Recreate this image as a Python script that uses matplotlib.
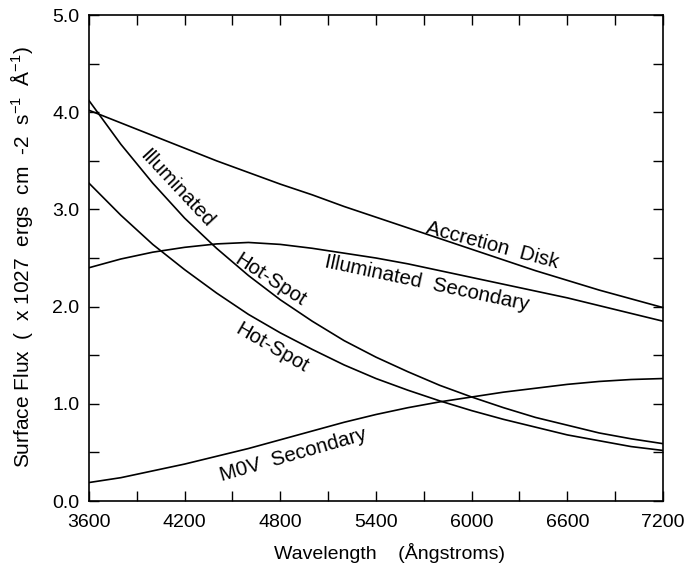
import numpy as np
import matplotlib
matplotlib.use("Agg")
import matplotlib.pyplot as plt
from matplotlib.ticker import MultipleLocator, FormatStrFormatter

plt.rcParams['font.family'] = ['Liberation Sans', 'DejaVu Sans']
plt.rcParams['mathtext.fontset'] = 'custom'
plt.rcParams['mathtext.rm'] = 'Liberation Sans'
plt.rcParams['mathtext.it'] = 'Liberation Sans'

# wavelength grid (Angstroms) and fluxes (x 1e27 erg/cm2/s/A)
wavelength = [3600, 3800, 4000, 4200, 4400, 4600, 4800, 5000, 5200, 5400,
              5600, 5800, 6000, 6200, 6400, 6600, 6800, 7000, 7200]
accretion_disk = [4.02, 3.89, 3.76, 3.63, 3.50, 3.38, 3.26, 3.15, 3.03, 2.92,
                  2.81, 2.70, 2.59, 2.48, 2.37, 2.27, 2.17, 2.08, 1.99]
illum_hotspot = [4.12, 3.67, 3.27, 2.91, 2.60, 2.32, 2.07, 1.85, 1.65, 1.48,
                 1.33, 1.19, 1.07, 0.96, 0.86, 0.78, 0.70, 0.64, 0.59]
hotspot = [3.27, 2.94, 2.64, 2.38, 2.14, 1.92, 1.73, 1.56, 1.40, 1.26,
           1.14, 1.03, 0.93, 0.84, 0.76, 0.68, 0.62, 0.56, 0.52]
illum_secondary = [2.40, 2.49, 2.56, 2.61, 2.645, 2.66, 2.64, 2.60, 2.55, 2.50,
                   2.44, 2.37, 2.30, 2.23, 2.16, 2.09, 2.01, 1.93, 1.85]
m0v_secondary = [0.19, 0.24, 0.31, 0.38, 0.46, 0.54, 0.63, 0.72, 0.81, 0.89,
                 0.96, 1.02, 1.07, 1.12, 1.16, 1.20, 1.23, 1.25, 1.26]

# curve labels: text, x, y, rotation
curve_labels = [
    ("Illuminated", 4150, 3.22, -47),
    ("Hot-Spot", 4740, 2.27, -33),
    ("Hot-Spot", 4745, 1.57, -30),
    ("M0V  Secondary", 4880, 0.47, 16),
    ("Accretion  Disk", 6130, 2.63, -15),
    ("Illuminated  Secondary", 5720, 2.24, -12),
]

fig = plt.figure(figsize=(6.93, 5.69), dpi=100)
ax = fig.add_axes([0.1284, 0.1195, 0.8283, 0.8541])

for series in [accretion_disk, illum_hotspot, hotspot, illum_secondary, m0v_secondary]:
    ax.plot(wavelength, series, color='black', lw=1.2)

for text, x, y, rot in curve_labels:
    ax.text(x, y, text, rotation=rot, rotation_mode='anchor',
            ha='center', va='center', fontsize=14.8)

ax.set_xlim(3600, 7200)
ax.set_ylim(0, 5)
ax.xaxis.set_major_locator(MultipleLocator(600))
ax.xaxis.set_minor_locator(MultipleLocator(300))
ax.yaxis.set_major_locator(MultipleLocator(1.0))
ax.yaxis.set_minor_locator(MultipleLocator(0.5))
ax.yaxis.set_major_formatter(FormatStrFormatter('%.1f'))
ax.tick_params(which='both', direction='in', top=True, right=True,
               length=7.5, width=1.0, labelsize=14)
ax.tick_params(axis='x', pad=9)
ax.tick_params(axis='y', pad=7)
for sp in ax.spines.values():
    sp.set_linewidth(1.2)

ax.set_xlabel("Wavelength    (Ångstroms)", fontsize=14)
ax.xaxis.set_label_coords(0.524, -0.086)
ax.set_ylabel(r"Surface Flux  (  x 1027  ergs  cm  -2  s$^{-1}$  Å$^{-1}$)", fontsize=15)
ax.yaxis.set_label_coords(-0.094, 0.502)

fig.savefig("out.png", dpi=100)
